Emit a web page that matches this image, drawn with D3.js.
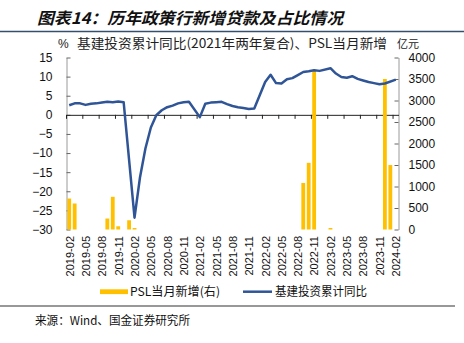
<!DOCTYPE html>
<html><head><meta charset="utf-8">
<script src="https://cdn.jsdelivr.net/npm/d3@7"></script>
<style>body{margin:0;background:#fff}svg{display:block}</style>
</head><body><div id="chart"></div>
<script>
const categories = [
 "2019-02","2019-03","2019-04","2019-05","2019-06","2019-07","2019-08","2019-09","2019-10","2019-11","2019-12",
 "2020-01","2020-02","2020-03","2020-04","2020-05","2020-06","2020-07","2020-08","2020-09","2020-10","2020-11","2020-12",
 "2021-01","2021-02","2021-03","2021-04","2021-05","2021-06","2021-07","2021-08","2021-09","2021-10","2021-11","2021-12",
 "2022-01","2022-02","2022-03","2022-04","2022-05","2022-06","2022-07","2022-08","2022-09","2022-10","2022-11","2022-12",
 "2023-01","2023-02","2023-03","2023-04","2023-05","2023-06","2023-07","2023-08","2023-09","2023-10","2023-11","2023-12",
 "2024-01","2024-02"
];
// 基建投资累计同比 (%), null = no January release
const infraYoY = [
 2.5,3.0,3.0,2.6,2.9,3.0,3.2,3.4,3.3,3.5,3.3,
 null,-26.9,-16.4,-8.8,-3.3,-0.1,1.2,2.0,2.4,3.0,3.3,3.4,
 null,-0.6,2.9,3.2,3.3,3.4,2.8,2.3,2.0,1.8,1.55,1.65,
 null,8.6,10.5,8.3,8.2,9.3,9.6,10.4,11.2,11.4,11.65,11.5,
 null,12.2,10.8,9.9,9.7,10.1,9.4,9.0,8.6,8.3,8.0,8.2,
 null,9.2
];
// PSL当月新增 (亿元)
const pslNew = [
 720,605,0,0,0,0,0,255,760,75,0,
 215,35,0,0,0,0,0,0,0,0,0,0,
 0,0,0,0,0,0,0,0,0,0,0,0,
 0,0,0,0,0,0,0,0,1082,1550,3690,0,
 0,35,0,0,0,0,0,0,0,0,0,3500,
 1500,0
];
const leftTicks = [15,10,5,0,-5,-10,-15,-20,-25,-30];
const rightTicks = [0,500,1000,1500,2000,2500,3000,3500,4000];
const labelEvery = 3;
const titleText = "图表14：历年政策行新增贷款及占比情况";
const subtitleText = "基建投资累计同比(2021年两年复合)、PSL当月新增";
const legendBar = "PSL当月新增(右)";
const legendLine = "基建投资累计同比";
const sourceText = "来源：Wind、国金证券研究所";

const W = 464, H = 343;
const cjk = "'Noto Sans CJK SC', sans-serif";
const latin = "'Liberation Sans', Arial, sans-serif";
const barColor = "#FFC000", lineColor = "#2F5597";

const svg = d3.select("#chart").append("svg").attr("width", W).attr("height", H);
svg.append("rect").attr("width", W).attr("height", H).attr("fill", "#fff");

const P = {left: 66.5, right: 398.5, top: 57.5, bottom: 229.5};
const x = d3.scaleBand().domain(categories).range([P.left, P.right]).paddingInner(0.3).paddingOuter(0.15);
const yL = d3.scaleLinear().domain([-30, 15]).range([P.bottom, P.top]);
const yR = d3.scaleLinear().domain([0, 4000]).range([P.bottom, P.top]);
const cx = c => x(c) + x.bandwidth() / 2;

// title
svg.append("text").attr("x", 37).attr("y", 23.5).text(titleText)
  .attr("font-family", cjk).attr("font-size", 16).attr("font-weight", "bold")
  .attr("font-style", "italic").attr("fill", "#111")
  .attr("textLength", 306).attr("lengthAdjust", "spacingAndGlyphs");
svg.append("line").attr("x1", 0).attr("x2", W).attr("y1", 31.5).attr("y2", 31.5)
  .attr("stroke", "#34506e").attr("stroke-width", 1.6);

// subtitle
svg.append("text").attr("x", 58).attr("y", 47.5).text("%")
  .attr("font-family", latin).attr("font-size", 12).attr("fill", "#222");
svg.append("text").attr("x", 77).attr("y", 47.5).text(subtitleText)
  .attr("font-family", cjk).attr("font-size", 13).attr("fill", "#222")
  .attr("textLength", 310).attr("lengthAdjust", "spacingAndGlyphs");
svg.append("text").attr("x", 397).attr("y", 48).text("亿元")
  .attr("font-family", cjk).attr("font-size", 11).attr("fill", "#222");

// left axis
const gL = svg.append("g").attr("transform", `translate(${P.left},0)`)
  .call(d3.axisLeft(yL).tickValues(leftTicks).tickFormat(d3.format("d")).tickSizeInner(-4).tickSizeOuter(0).tickPadding(14));
gL.select(".domain").attr("stroke", "#9a9a9a");
gL.selectAll(".tick line").attr("stroke", "#666");
gL.selectAll(".tick text").attr("font-family", latin).attr("font-size", 12).attr("fill", "#111");

// right axis
const gR = svg.append("g").attr("transform", `translate(${P.right},0)`)
  .call(d3.axisRight(yR).tickValues(rightTicks).tickFormat(d3.format("d")).tickSizeInner(-4).tickSizeOuter(0).tickPadding(10));
gR.select(".domain").attr("stroke", "#9a9a9a");
gR.selectAll(".tick line").attr("stroke", "#666");
gR.selectAll(".tick text").attr("font-family", latin).attr("font-size", 12).attr("fill", "#111");

// x axis at zero
const tickCats = categories.filter((d, i) => i % labelEvery === 0);
const gX = svg.append("g").attr("transform", `translate(0,${yL(0)})`)
  .call(d3.axisBottom(x).tickValues(tickCats).tickSizeInner(4).tickSizeOuter(0).tickFormat(""));
gX.select(".domain").attr("stroke", "#222");
gX.selectAll(".tick line").attr("x1", -x.step() / 2).attr("x2", -x.step() / 2).attr("stroke", "#222");

// x labels
svg.append("g").selectAll("text").data(tickCats).join("text")
  .attr("transform", d => `translate(${cx(d) + 0.5},236) rotate(-90)`)
  .attr("text-anchor", "end").attr("dy", "0.35em").text(d => d)
  .attr("font-family", latin).attr("font-size", 11).attr("fill", "#111");

// bars
const barData = categories.map((c, i) => ({c, v: pslNew[i]})).filter(d => d.v > 0);
svg.append("g").selectAll("rect").data(barData).join("rect")
  .attr("x", d => x(d.c)).attr("width", x.bandwidth())
  .attr("y", d => yR(d.v)).attr("height", d => yR(0) - yR(d.v))
  .attr("fill", barColor);

// line
const lineData = categories.map((c, i) => ({c, v: infraYoY[i]})).filter(d => d.v !== null);
svg.append("path").datum(lineData)
  .attr("d", d3.line().x(d => cx(d.c)).y(d => yL(d.v)))
  .attr("fill", "none").attr("stroke", lineColor).attr("stroke-width", 2.5)
  .attr("stroke-linejoin", "round");

// legend
svg.append("rect").attr("x", 100).attr("y", 289.3).attr("width", 28).attr("height", 4.8).attr("fill", barColor);
svg.append("text").attr("x", 130).attr("y", 296).text(legendBar)
  .attr("font-family", cjk).attr("font-size", 12).attr("fill", "#111")
  .attr("textLength", 90).attr("lengthAdjust", "spacingAndGlyphs");
svg.append("line").attr("x1", 243).attr("x2", 272).attr("y1", 291.7).attr("y2", 291.7)
  .attr("stroke", lineColor).attr("stroke-width", 2.5);
svg.append("text").attr("x", 275).attr("y", 296).text(legendLine)
  .attr("font-family", cjk).attr("font-size", 12).attr("fill", "#111")
  .attr("textLength", 92).attr("lengthAdjust", "spacingAndGlyphs");

// footer
svg.append("line").attr("x1", 0).attr("x2", 455).attr("y1", 306).attr("y2", 306)
  .attr("stroke", "#333").attr("stroke-width", 1.2);
svg.append("text").attr("x", 35).attr("y", 325).text(sourceText)
  .attr("font-family", cjk).attr("font-size", 12).attr("fill", "#111")
  .attr("textLength", 155).attr("lengthAdjust", "spacingAndGlyphs");
</script>
</body></html>
